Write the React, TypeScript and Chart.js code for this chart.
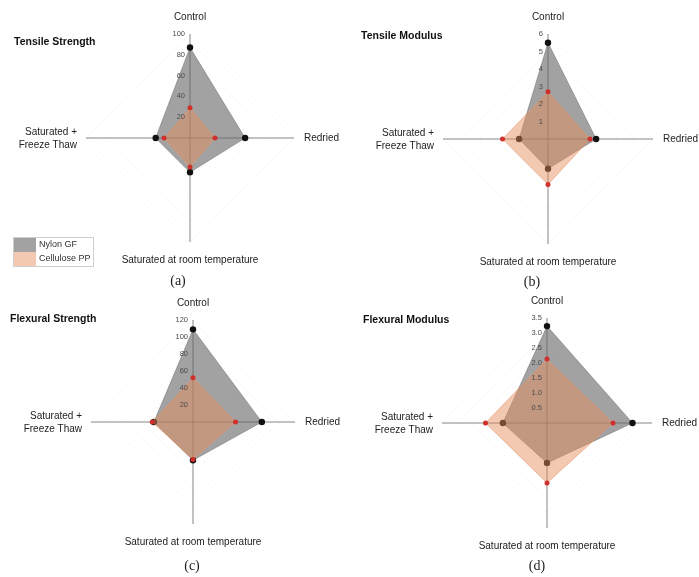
import React, { useEffect, useRef } from 'react';
import { Chart, registerables } from 'chart.js';

Chart.register(...registerables);

// ---- data ----
const axisLabels = ['Control', 'Redried', 'Saturated at room temperature', 'Saturated + Freeze Thaw'];
const seriesNames = ['Nylon GF', 'Cellulose PP'];

const tensileStrengthNylon = [87, 53, 33, 33];
const tensileStrengthCellulose = [29, 24, 28, 25];
const tensileStrengthTicks = ['20', '40', '60', '80', '100'];

const tensileModulusNylon = [5.5, 2.75, 1.7, 1.65];
const tensileModulusCellulose = [2.7, 2.4, 2.6, 2.6];
const tensileModulusTicks = ['1', '2', '3', '4', '5', '6'];

const flexuralStrengthNylon = [109, 81, 45, 46];
const flexuralStrengthCellulose = [52, 50, 44, 48];
const flexuralStrengthTicks = ['20', '40', '60', '80', '100', '120'];

const flexuralModulusNylon = [3.23, 2.85, 1.33, 1.47];
const flexuralModulusCellulose = [2.13, 2.2, 2.0, 2.05];
const flexuralModulusTicks = ['0.5', '1.0', '1.5', '2.0', '2.5', '3.0', '3.5'];

const FONT = '"Liberation Sans", Arial, sans-serif';
const SERIF = '"Liberation Serif", "Times New Roman", serif';

const NYLON_FILL = 'rgba(105,105,105,0.62)';
const CELL_FILL = 'rgba(230,140,90,0.47)';

const decorPlugin = {
  id: 'decor',
  afterDraw(chart: any, _args: any, opts: any) {
    const ctx = chart.ctx;
    const scale = chart.scales.r;
    const R = scale.drawingArea;
    const cx = scale.xCenter;
    const cy = scale.yCenter;
    ctx.save();
    // tick labels
    ctx.font = `7.5px ${FONT}`;
    ctx.fillStyle = '#4a4a4a';
    ctx.textAlign = 'right';
    ctx.textBaseline = 'middle';
    (opts.tickLabels as string[]).forEach((t) => {
      const d = scale.getDistanceFromCenterForValue(parseFloat(t));
      ctx.fillText(t, cx - 5, cy - d);
    });
    // point labels
    ctx.font = `10px ${FONT}`;
    ctx.fillStyle = '#222';
    ctx.textBaseline = 'middle';
    const p0 = scale.getPointPosition(0, R + 17);
    ctx.textAlign = 'center';
    ctx.fillText(axisLabels[0], p0.x, p0.y);
    const p1 = scale.getPointPosition(1, R + 10);
    ctx.textAlign = 'left';
    ctx.fillText(axisLabels[1], p1.x, p1.y);
    const p2 = scale.getPointPosition(2, R + 18);
    ctx.textAlign = 'center';
    ctx.fillText(axisLabels[2], p2.x, p2.y);
    const p3 = scale.getPointPosition(3, R + 9);
    ctx.textAlign = 'right';
    ctx.fillText('Saturated +', p3.x, p3.y - 6);
    ctx.fillText('Freeze Thaw', p3.x, p3.y + 7);
    // title
    ctx.font = `bold 10.5px ${FONT}`;
    ctx.fillStyle = '#111';
    ctx.textAlign = 'left';
    ctx.fillText(opts.title, opts.titleX, opts.titleY);
    // caption
    ctx.font = `14px ${SERIF}`;
    ctx.fillStyle = '#222';
    ctx.textAlign = 'center';
    ctx.fillText(opts.caption, opts.captionX, opts.captionY);
    // legend
    if (opts.legend) {
      const lx = 13, ly = 237;
      ctx.strokeStyle = '#cfcfcf';
      ctx.lineWidth = 1;
      ctx.strokeRect(lx + 0.5, ly + 0.5, 80, 29);
      ctx.fillStyle = NYLON_FILL;
      ctx.fillRect(lx + 1, ly + 1, 22, 14);
      ctx.fillStyle = CELL_FILL;
      ctx.fillRect(lx + 1, ly + 15, 22, 14);
      ctx.font = `9px ${FONT}`;
      ctx.fillStyle = '#333';
      ctx.textAlign = 'left';
      ctx.fillText(seriesNames[0], lx + 26, ly + 8);
      ctx.fillText(seriesNames[1], lx + 26, ly + 22);
    }
    ctx.restore();
  },
};

type PanelProps = {
  left: number; top: number; width: number; height: number;
  cx: number; cy: number; R: number;
  nylon: number[]; cellulose: number[];
  max: number; step: number; ticks: string[];
  title: string; titleX: number; titleY: number;
  caption: string; captionX: number; captionY: number;
  legend?: boolean;
};

function Panel(p: PanelProps) {
  const ref = useRef<HTMLCanvasElement>(null);
  useEffect(() => {
    if (!ref.current) return;
    const chart = new Chart(ref.current, {
      type: 'radar',
      data: {
        labels: axisLabels,
        datasets: [
          {
            label: seriesNames[1],
            data: p.cellulose,
            backgroundColor: CELL_FILL,
            borderColor: 'rgba(230,150,110,0.55)',
            borderWidth: 1,
            fill: true,
            pointRadius: 2.5,
            pointBackgroundColor: '#d0302c',
            pointBorderColor: '#d0302c',
            pointBorderWidth: 0,
          },
          {
            label: seriesNames[0],
            data: p.nylon,
            backgroundColor: NYLON_FILL,
            borderColor: 'rgba(120,120,120,0.6)',
            borderWidth: 1,
            fill: true,
            pointRadius: 3.2,
            pointBackgroundColor: '#111',
            pointBorderColor: '#111',
            pointBorderWidth: 0,
            order: 1,
          },
        ],
      },
      options: {
        responsive: false,
        animation: false,
        devicePixelRatio: 1,
        layout: {
          padding: {
            left: p.cx - p.R,
            top: p.cy - p.R,
            right: p.width - p.cx - p.R,
            bottom: p.height - p.cy - p.R,
          },
        },
        elements: { line: { tension: 0 } },
        scales: {
          r: {
            min: 0,
            max: p.max,
            ticks: { display: false, stepSize: p.step },
            pointLabels: { display: false },
            grid: { color: 'rgba(205,205,205,0.45)', lineWidth: 1 },
            border: { dash: [1, 3] },
            angleLines: { color: 'rgba(120,120,120,0.9)', lineWidth: 1 },
          },
        },
        plugins: {
          legend: { display: false },
          tooltip: { enabled: false },
          decor: {
            tickLabels: p.ticks,
            title: p.title, titleX: p.titleX, titleY: p.titleY,
            caption: p.caption, captionX: p.captionX, captionY: p.captionY,
            legend: !!p.legend,
          },
        } as any,
      },
      plugins: [decorPlugin],
    });
    return () => chart.destroy();
  }, []);
  return (
    <canvas
      ref={ref}
      width={p.width}
      height={p.height}
      style={{ position: 'absolute', left: p.left, top: p.top, width: p.width, height: p.height }}
    />
  );
}

export default function App() {
  return (
    <div style={{ position: 'absolute', left: 0, top: 0, width: 699, height: 577, background: '#fff', overflow: 'hidden' }}>
      <Panel left={0} top={0} width={350} height={290} cx={190} cy={138} R={104}
        nylon={tensileStrengthNylon} cellulose={tensileStrengthCellulose}
        max={100} step={20} ticks={tensileStrengthTicks}
        title="Tensile Strength" titleX={14} titleY={42}
        caption="(a)" captionX={178} captionY={281} legend />
      <Panel left={350} top={0} width={349} height={290} cx={198} cy={139} R={105}
        nylon={tensileModulusNylon} cellulose={tensileModulusCellulose}
        max={6} step={1} ticks={tensileModulusTicks}
        title="Tensile Modulus" titleX={11} titleY={36}
        caption="(b)" captionX={182} captionY={282} />
      <Panel left={0} top={290} width={350} height={287} cx={193} cy={132} R={102}
        nylon={flexuralStrengthNylon} cellulose={flexuralStrengthCellulose}
        max={120} step={20} ticks={flexuralStrengthTicks}
        title="Flexural Strength" titleX={10} titleY={29}
        caption="(c)" captionX={192} captionY={276} />
      <Panel left={350} top={290} width={349} height={287} cx={197} cy={133} R={105}
        nylon={flexuralModulusNylon} cellulose={flexuralModulusCellulose}
        max={3.5} step={0.5} ticks={flexuralModulusTicks}
        title="Flexural Modulus" titleX={13} titleY={30}
        caption="(d)" captionX={187} captionY={276} />
    </div>
  );
}
